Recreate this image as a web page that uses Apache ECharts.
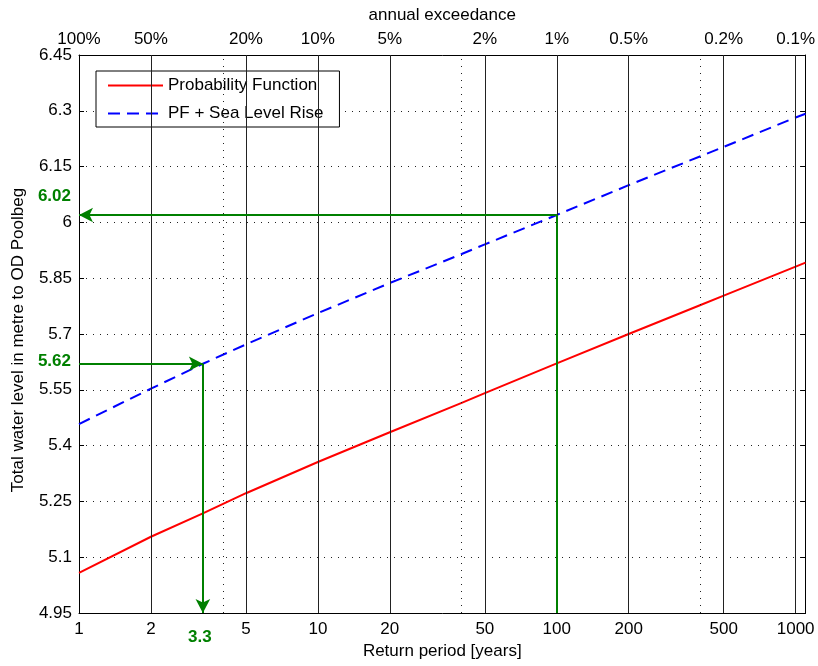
<!DOCTYPE html>
<html>
<head>
<meta charset="utf-8">
<script src="https://cdn.jsdelivr.net/npm/echarts@6/dist/echarts.min.js"></script>
<style>
html,body{margin:0;padding:0;background:#fff;}
#chart{width:818px;height:666px;}
</style>
</head>
<body>
<div id="chart"></div>
<script>
// ---- data ----
const returnPeriods = [1, 2, 3.3, 5, 10, 20, 40, 50, 100, 200, 400, 500, 1000, 1100];
const probabilityFunction = [5.058, 5.155, 5.218, 5.272, 5.356, 5.436, 5.515, 5.541, 5.621, 5.700, 5.778, 5.803, 5.881, 5.892];
const pfSeaLevelRise = [5.458, 5.553, 5.620, 5.672, 5.756, 5.837, 5.915, 5.941, 6.020, 6.100, 6.178, 6.203, 6.282, 6.292];

const returnPeriodTicks = [1, 2, 5, 10, 20, 50, 100, 200, 500, 1000];
const exceedanceLabels = ['100%', '50%', '20%', '10%', '5%', '2%', '1%', '0.5%', '0.2%', '0.1%'];
const solidGridPeriods = [2, 5, 10, 20, 50, 100, 200, 500, 1000];
const dottedGridPeriods = [4, 40, 400];

const annotationPeriods = [100, 3.3];
const annotationLevels = [6.02, 5.62];

const xMin = 1, xMax = 1100;
const yMin = 4.95, yMax = 6.45, yStep = 0.15;

// ---- chart ----
const FONT = 'Liberation Sans, Arial, Helvetica, sans-serif';
const GREEN = '#008000';

function pairs(xs, ys) { return xs.map((x, i) => [x, ys[i]]); }

const exceedanceMap = {};
returnPeriodTicks.forEach((v, i) => { exceedanceMap[v] = exceedanceLabels[i]; });

const chart = echarts.init(document.getElementById('chart'), null, {renderer: 'canvas'});

const option = {
  animation: false,
  backgroundColor: '#fff',
  textStyle: {fontFamily: FONT},
  grid: {left: 79, right: 9, top: 55, bottom: 53, containLabel: false},
  legend: {
    data: ['Probability Function', 'PF + Sea Level Rise'],
    orient: 'vertical',
    left: 96,
    top: 71,
    itemWidth: 55,
    itemHeight: 12,
    itemGap: 11,
    padding: [6, 16, 5, 11],
    backgroundColor: '#fff',
    borderColor: '#000',
    borderWidth: 1,
    borderRadius: 0,
    itemStyle: {opacity: 0},
    textStyle: {fontSize: 17, color: '#000', fontFamily: FONT},
    selectedMode: false
  },
  xAxis: [
    {
      type: 'log', logBase: 10, min: xMin, max: xMax,
      position: 'bottom',
      name: 'Return period [years]', nameLocation: 'middle', nameGap: 29,
      nameTextStyle: {fontSize: 17, color: '#000', fontFamily: FONT},
      axisLine: {show: true, onZero: false, lineStyle: {color: '#000', width: 1}},
      axisTick: {show: true, inside: true, length: 5, customValues: returnPeriodTicks, lineStyle: {color: '#000'}},
      axisLabel: {show: true, customValues: returnPeriodTicks, margin: 8, fontSize: 17, color: '#000', fontFamily: FONT,
        formatter: v => String(Math.round(v))},
      splitLine: {show: false},
      minorTick: {show: false}, minorSplitLine: {show: false}
    },
    {
      type: 'log', logBase: 10, min: xMin, max: xMax,
      position: 'top',
      name: 'annual exceedance', nameLocation: 'middle', nameGap: 31,
      nameTextStyle: {fontSize: 17, color: '#000', fontFamily: FONT},
      axisLine: {show: true, onZero: false, lineStyle: {color: '#000', width: 1}},
      axisTick: {show: true, inside: true, length: 5, customValues: returnPeriodTicks, lineStyle: {color: '#000'}},
      axisLabel: {show: true, customValues: returnPeriodTicks, margin: 7, fontSize: 17, color: '#000', fontFamily: FONT,
        formatter: v => exceedanceMap[Math.round(v)] || ''},
      splitLine: {show: false}
    }
  ],
  yAxis: [
    {
      type: 'value', min: yMin, max: yMax, interval: yStep, position: 'left',
      name: 'Total water level in metre to OD Poolbeg', nameLocation: 'middle', nameGap: 52,
      nameTextStyle: {fontSize: 17, color: '#000', fontFamily: FONT, padding: [0, 12, 0, 0]},
      axisLine: {show: true, onZero: false, lineStyle: {color: '#000', width: 1}},
      axisTick: {show: true, inside: true, length: 5, lineStyle: {color: '#000'}},
      axisLabel: {margin: 7, fontSize: 17, color: '#000', fontFamily: FONT},
      splitLine: {show: true, lineStyle: {color: '#222', width: 1, type: [1, 6]}}
    },
    {
      type: 'value', min: yMin, max: yMax, interval: yStep, position: 'right',
      axisLine: {show: true, onZero: false, lineStyle: {color: '#000', width: 1}},
      axisTick: {show: true, inside: true, length: 5, lineStyle: {color: '#000'}},
      axisLabel: {show: false},
      splitLine: {show: false}
    }
  ],
  series: [
    {
      name: 'grid', type: 'line', data: [], z: 1, silent: true,
      markLine: {
        silent: true, symbol: ['none', 'none'], animation: false,
        label: {show: false},
        data: solidGridPeriods.map(v => ({xAxis: v, lineStyle: {color: '#222', width: 1, type: 'solid'}}))
          .concat(dottedGridPeriods.map(v => ({xAxis: v, lineStyle: {color: '#222', width: 1, type: [1, 6]}})))
      }
    },
    {
      name: 'Probability Function', type: 'line', z: 3,
      data: pairs(returnPeriods, probabilityFunction),
      showSymbol: false, symbol: 'none',
      lineStyle: {color: '#ff0000', width: 2},
      itemStyle: {color: '#ff0000'}
    },
    {
      name: 'PF + Sea Level Rise', type: 'line', z: 3,
      data: pairs(returnPeriods, pfSeaLevelRise),
      showSymbol: false, symbol: 'none',
      lineStyle: {color: '#0000ff', width: 2, type: [12, 7]},
      itemStyle: {color: '#0000ff'}
    },
    {
      name: 'annotations', type: 'line', data: [], z: 4, silent: true,
      markLine: {
        silent: true, animation: false,
        symbol: ['none', 'none'],
        label: {show: false},
        lineStyle: {color: GREEN, width: 2, type: 'solid'},
        data: [
          // 1% event: horizontal arrow to the axis, vertical to the bottom
          [{coord: [annotationPeriods[0], annotationLevels[0]], symbol: 'none'},
           {coord: [xMin, annotationLevels[0]], symbol: 'arrow', symbolSize: [11, 14]}],
          [{coord: [annotationPeriods[0], annotationLevels[0]], symbol: 'none'},
           {coord: [annotationPeriods[0], yMin], symbol: 'none'}],
          // current 1% level reached at 3.3 years with sea level rise
          [{coord: [xMin, annotationLevels[1]], symbol: 'none'},
           {coord: [annotationPeriods[1], annotationLevels[1]], symbol: 'arrow', symbolSize: [11, 14]}],
          [{coord: [annotationPeriods[1], annotationLevels[1]], symbol: 'none'},
           {coord: [annotationPeriods[1], yMin], symbol: 'arrow', symbolSize: [11, 14]}]
        ]
      },
      markPoint: {
        silent: true, animation: false,
        symbol: 'circle', symbolSize: 0,
        itemStyle: {color: 'transparent'},
        label: {show: true, color: GREEN, fontWeight: 'bold', fontSize: 17, fontFamily: FONT},
        data: [
          {coord: [xMin, annotationLevels[0]], value: annotationLevels[0],
           label: {formatter: annotationLevels[0].toFixed(2), position: 'left', distance: 8, offset: [0, -19]}},
          {coord: [xMin, annotationLevels[1]], value: annotationLevels[1],
           label: {formatter: annotationLevels[1].toFixed(2), position: 'left', distance: 8, offset: [0, -2]}},
          {coord: [annotationPeriods[1], yMin], value: annotationPeriods[1],
           label: {formatter: String(annotationPeriods[1]), position: 'bottom', distance: 16, offset: [-3, 0]}}
        ]
      }
    }
  ]
};

chart.setOption(option);
</script>
</body>
</html>
